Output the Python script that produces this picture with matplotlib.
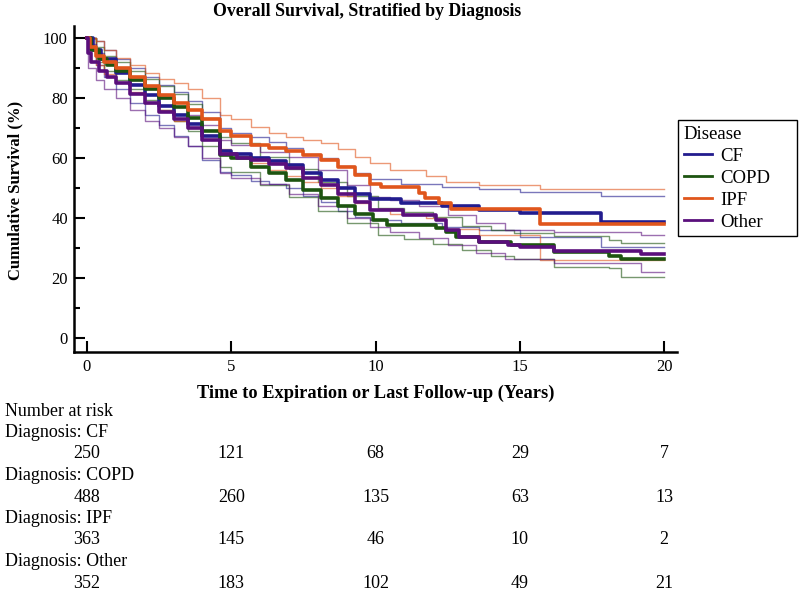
import matplotlib
matplotlib.use("Agg")
import matplotlib.pyplot as plt
import matplotlib.transforms as mtransforms
from matplotlib.ticker import MultipleLocator

# ---------------- data ----------------
groups = ["CF", "COPD", "IPF", "Other"]

cf_t = [0, 0.2, 0.5, 1, 1.5, 2, 2.5, 3, 3.5, 4, 4.6, 5, 5.7, 6.3, 6.9, 7.5, 8.1, 8.7, 9.3, 9.8, 10.9, 12.3, 13.6, 15.0, 17.8, 20]
cf_s = [100, 96, 93, 88.5, 84.5, 81, 77.5, 74.5, 71.5, 67.5, 62.5, 61.5, 60, 59, 57.8, 55, 52.8, 50, 48, 46.5, 45, 44, 42.8, 41.7, 38.7, 38.7]
cfc_t = [0, 0.3, 0.6, 1, 1.5, 2, 2.5, 3, 3.5, 4, 4.6, 5, 5.7, 6.3, 6.9, 7.5, 8.1, 8.7, 9.3, 9.8, 10.9, 12.3, 13.6, 15.0, 17.8, 20]
cf_hi = [100, 99, 96, 93, 90, 87, 84.5, 82, 79, 75.5, 70, 68.5, 67, 65.5, 63.5, 61.5, 60, 57.5, 55, 53, 51.5, 50.5, 49.9, 48.7, 47.4, 47.4]
cf_lo = [100, 91, 87, 83, 78.5, 74.5, 71, 67.5, 64, 59.5, 55.5, 54.5, 52.5, 51.5, 50, 47.5, 45.5, 42.5, 40.5, 39.5, 38.5, 37, 36, 33.7, 30.5, 30.5]

cp_t = [0, 0.15, 0.4, 0.7, 1, 1.5, 2, 2.5, 3, 3.5, 4, 4.6, 5, 5.7, 6.3, 6.9, 7.5, 8.1, 8.7, 9.3, 9.9, 10.4, 12.1, 12.45, 12.8, 13.6, 14.7, 16.2, 18.1, 18.5, 20]
cp_s = [100, 96, 93, 91, 89, 86, 83, 80, 77, 73.5, 69, 61, 60, 57.2, 55, 52.8, 49.5, 46.7, 44, 41.5, 39.4, 37.8, 36.7, 35.5, 33.7, 32, 31.1, 28.9, 27.4, 26.3, 26.3]
cpc_t = [0, 0.3, 0.6, 1, 1.5, 2, 2.5, 3, 3.5, 4, 4.6, 5, 6, 7, 8, 9, 10.1, 11, 12, 13, 14, 14.8, 16.2, 18.1, 18.5, 20]
cp_hi = [100, 97, 94, 92, 89, 86.5, 84, 81.5, 78, 73.5, 67.2, 65, 60.5, 56.5, 52, 47.5, 43.5, 42, 40.5, 37.5, 36, 35.1, 34, 32.9, 31.9, 31.9]
cp_lo = [100, 92, 89, 86, 83, 79.5, 76, 72.5, 69, 64, 57.2, 55.5, 51, 47, 42.5, 38.5, 34.4, 33, 31.5, 29.5, 27.5, 26.4, 23.9, 23.3, 20.5, 20.5]

ip_t = [0, 0.1, 0.3, 0.6, 1, 1.5, 2, 2.5, 3, 3.5, 4, 4.6, 5, 5.7, 6.3, 6.9, 7.5, 8.1, 8.7, 9.3, 9.8, 10.2, 11.5, 11.7, 12.2, 12.6, 15.7, 20]
ip_s = [100, 97, 94, 92, 90, 87, 84, 81, 78.5, 76, 73, 69, 67.5, 64.5, 63.5, 62.5, 61, 59.4, 57, 54.5, 51.5, 50.5, 48.3, 46.7, 45, 43, 38, 38]
ipc_t = [0, 0.3, 0.6, 1, 1.5, 2, 2.5, 3, 3.5, 4, 4.6, 5, 5.7, 6.3, 6.9, 7.5, 8.1, 8.7, 9.3, 9.8, 10.5, 11.75, 12.45, 13.6, 15.7, 20]
ip_hi = [100, 99, 96, 93.5, 91, 88.5, 86.5, 85, 83, 80, 74.5, 73, 70.5, 68.5, 67, 66, 65, 63, 60.5, 58.3, 56, 54, 52, 51.1, 49.7, 49.7]
ip_lo = [100, 91, 88, 85.5, 82, 78.5, 76, 72.5, 70, 66.5, 63, 61.5, 58.5, 56, 54, 52, 50, 47.5, 45, 43, 41.5, 40, 36.5, 34.4, 26.1, 26.1]

ot_t = [0, 0.05, 0.15, 0.4, 0.7, 1, 1.5, 2, 2.5, 3, 3.5, 4, 4.6, 5.2, 5.7, 6.3, 6.9, 7.5, 8.1, 8.7, 9.3, 9.8, 10.95, 12.1, 12.45, 12.9, 13.6, 14.6, 15.0, 16.2, 19.2, 20]
ot_s = [100, 95, 92, 89, 87, 85, 81.5, 78.5, 75.5, 73, 70, 66, 61.5, 60, 59.4, 58, 56.7, 53.5, 51.1, 48, 45.5, 42.8, 41.1, 39.4, 36.1, 33.9, 32.2, 31.1, 30.3, 29.1, 28.1, 28.1]
otc_t = [0, 0.05, 0.3, 0.6, 1, 1.5, 2, 2.5, 3, 3.5, 4, 4.6, 5, 6, 7, 8, 9, 9.8, 10.5, 11.5, 12.5, 13.5, 14.5, 16.2, 19.2, 20]
ot_hi = [100, 98, 95, 92, 89.5, 86, 83, 80, 77.5, 74.5, 71, 66, 64.5, 62, 60.5, 56, 51, 47.2, 46, 44, 41, 38.5, 36.1, 35.5, 34.4, 34.4]
ot_lo = [100, 90, 86, 83, 80, 76, 72.5, 70, 67, 64, 60, 55, 53.5, 51.5, 48, 44, 40, 37.2, 35.5, 33.5, 31, 28.5, 26.5, 25, 22.2, 22.2]

risk_times = [0, 5, 10, 15, 20]
risk_cf = [250, 121, 68, 29, 7]
risk_copd = [488, 260, 135, 63, 13]
risk_ipf = [363, 145, 46, 10, 2]
risk_other = [352, 183, 102, 49, 21]

colors = ["#221c8e", "#1d5410", "#e0561c", "#5a0f7c"]

# ---------------- figure ----------------
plt.rcParams["font.family"] = ["Liberation Serif", "DejaVu Serif"]
W, H = 800, 595
fig = plt.figure(figsize=(W / 100, H / 100), dpi=100)
ax = fig.add_axes([74 / W, 1 - 352 / H, (677 - 74) / W, (352 - 26) / H])

series = [
    (cf_t, cf_s, cfc_t, cf_lo, cf_hi),
    (cp_t, cp_s, cpc_t, cp_lo, cp_hi),
    (ip_t, ip_s, ipc_t, ip_lo, ip_hi),
    (ot_t, ot_s, otc_t, ot_lo, ot_hi),
]

# CI lines first
for (t, s, ct, lo, hi), c in zip(series, colors):
    ax.step(ct, hi, where="post", color=c, lw=1.0, alpha=0.6)
    ax.step(ct, lo, where="post", color=c, lw=1.0, alpha=0.6)

handles = []
for (t, s, ct, lo, hi), c, g in zip(series, colors, groups):
    ln, = ax.step(t, s, where="post", color=c, lw=2.6, label=g)
    handles.append(ln)

ax.set_xlim(-0.45, 20.45)
ax.set_ylim(-4.6, 104.1)
ax.set_xticks([0, 5, 10, 15, 20])
ax.set_yticks([0, 20, 40, 60, 80, 100])
ax.yaxis.set_minor_locator(MultipleLocator(10))
ax.tick_params(axis="both", which="major", direction="in", length=8, width=1.5,
               labelsize=12, colors="black")
ax.tick_params(axis="y", which="minor", direction="in", length=4.5, width=1.5)
ax.tick_params(axis="y", which="major", pad=4.5)
ax.tick_params(axis="x", which="major", pad=5)
for sp in ["top", "right"]:
    ax.spines[sp].set_visible(False)
for sp in ["left", "bottom"]:
    ax.spines[sp].set_linewidth(1.8)

fig.text(367 / W, 1 - 12 / H, "Overall Survival, Stratified by Diagnosis",
         ha="center", va="center", fontsize=12.8, fontweight="bold")
fig.text(376 / W, 1 - 393 / H, "Time to Expiration or Last Follow-up (Years)",
         ha="center", va="center", fontsize=13.2, fontweight="bold")
fig.text(15 / W, 1 - 190 / H, "Cumulative Survival (%)", rotation=90,
         ha="center", va="center", fontsize=12, fontweight="bold")

leg = fig.legend(handles=[plt.Line2D([], [], color=c, lw=2) for c in colors],
                 labels=groups, title="Disease", loc="upper left",
                 bbox_to_anchor=(678 / W, 1 - 232 / H, 119 / W, 112 / H),
                 mode="expand", borderaxespad=0,
                 fontsize=13.5, title_fontsize=13.5, frameon=True, fancybox=False,
                 edgecolor="black", framealpha=1, alignment="left",
                 handlelength=1.5, labelspacing=0.26, borderpad=0.3,
                 handletextpad=0.45)
leg.get_frame().set_linewidth(1.0)

# Number at risk table
trans = mtransforms.blended_transform_factory(ax.transData, fig.transFigure)
row0, dy = 411, 21.5
fig.text(5 / W, 1 - row0 / H, "Number at risk", ha="left", va="center", fontsize=13)
risk_rows = [risk_cf, risk_copd, risk_ipf, risk_other]
for i, (g, vals) in enumerate(zip(groups, risk_rows)):
    ylab = row0 + dy * (1 + 2 * i)
    ynum = row0 + dy * (2 + 2 * i)
    fig.text(5 / W, 1 - ylab / H, "Diagnosis: " + g, ha="left", va="center", fontsize=13)
    for tt, v in zip(risk_times, vals):
        ax.text(tt, 1 - ynum / H, str(v), transform=trans, ha="center",
                va="center", fontsize=13, clip_on=False)

fig.savefig("out.png", dpi=100)
